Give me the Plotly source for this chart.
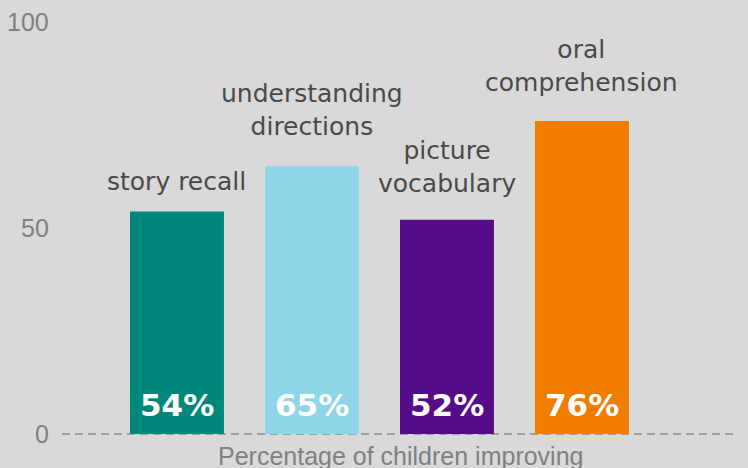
import plotly.graph_objects as go

# ---- data ----
categories = ["story recall", "understanding<br>directions", "picture<br>vocabulary", "oral<br>comprehension"]
values = [54, 65, 52, 76]
value_labels = ["54%", "65%", "52%", "76%"]
y_ticks = [0, 50, 100]
x_title = "Percentage of children improving"

# ---- styles ----
colors = ["#00877b", "#8fd5e8", "#560c87", "#f07c00"]
label_shift = [30, 43, 40, 42]   # px above bar top for last line centre
W, H = 748, 468
bg = "#d9d9d9"

x_pos = list(range(len(categories)))

fig = go.Figure()
fig.add_trace(go.Bar(
    x=x_pos, y=values, width=0.696,
    marker=dict(color=colors, line=dict(width=0)),
    hoverinfo="skip",
))

ann = []
# y tick labels
for v in y_ticks:
    ann.append(dict(x=51 / W, xref="paper", xanchor="right", y=v, yref="y", yanchor="middle",
                    text=str(v), showarrow=False,
                    font=dict(family="Liberation Sans", size=25, color="#808080")))
# value labels inside bars
for i, t in enumerate(value_labels):
    ann.append(dict(x=x_pos[i], y=0, xref="x", yref="y", yanchor="middle", yshift=29,
                    text="<b>" + t + "</b>", showarrow=False,
                    font=dict(family="DejaVu Sans", size=31, color="white")))
# category labels above bars
for i, c in enumerate(categories):
    n = len(c.split("<br>"))
    ann.append(dict(x=x_pos[i], y=values[i], xref="x", yref="y", yanchor="middle",
                    yshift=label_shift[i] + (n - 1) * 13,
                    text=c, showarrow=False,
                    font=dict(family="DejaVu Sans", size=25, color="#4a4a4a")))
# axis title
ann.append(dict(x=400 / W, xref="paper", xanchor="center", y=(H - 456) / H, yref="paper",
                yanchor="middle", text=x_title, showarrow=False,
                font=dict(family="Liberation Sans", size=25, color="#808080")))

fig.update_layout(
    width=W, height=H,
    margin=dict(l=0, r=0, t=0, b=0),
    paper_bgcolor=bg, plot_bgcolor=bg,
    showlegend=False,
    xaxis=dict(range=[-1.311, 4.230], visible=False, fixedrange=True),
    yaxis=dict(range=[-8.25, 105.34], visible=False, fixedrange=True),
    annotations=ann,
    shapes=[dict(type="line", xref="paper", yref="y", x0=62 / W, x1=738 / W, y0=0, y1=0,
                 layer="below", line=dict(color="#8c8c8c", width=1.5, dash="8px,5px"))],
)

fig.write_html("out.html", config={"displayModeBar": False},
               post_script="document.body.style.margin='0';document.body.style.background='%s';" % bg)
